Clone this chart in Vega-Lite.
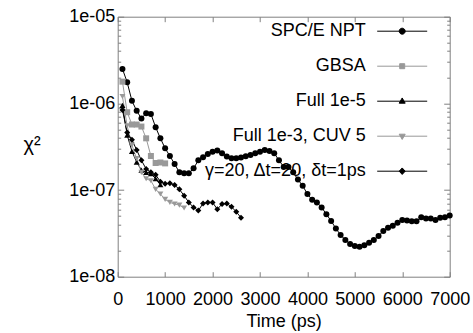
{
  "$schema": "https://vega.github.io/schema/vega-lite/v6.json",
  "width": 332,
  "height": 260,
  "autosize": "none",
  "padding": {"left": 117.7, "top": 16.7, "right": 23.3, "bottom": 56.3},
  "config": {
    "font": "Liberation Sans",
    "view": {"stroke": null},
    "axis": {"grid": false, "domainColor": "#808080", "tickColor": "#808080", "labelFont": "Liberation Sans", "titleFont": "Liberation Sans", "labelColor": "black", "titleColor": "black", "labelFontSize": 18, "titleFontSize": 18, "titleFontWeight": "normal", "labelFlush": false}
  },
  "data": {"values": [
    {"s":"SPC/E NPT","t":100,"v":2.5e-6},{"s":"SPC/E NPT","t":200,"v":1.75e-6},{"s":"SPC/E NPT","t":300,"v":1.07e-6},{"s":"SPC/E NPT","t":400,"v":8.2e-7},{"s":"SPC/E NPT","t":500,"v":6.7e-7},{"s":"SPC/E NPT","t":600,"v":7.7e-7},{"s":"SPC/E NPT","t":700,"v":7.55e-7},{"s":"SPC/E NPT","t":800,"v":5.3e-7},{"s":"SPC/E NPT","t":900,"v":3.95e-7},{"s":"SPC/E NPT","t":1000,"v":3.03e-7},
    {"s":"SPC/E NPT","t":1100,"v":2.47e-7},{"s":"SPC/E NPT","t":1200,"v":2.0e-7},{"s":"SPC/E NPT","t":1300,"v":1.6e-7},{"s":"SPC/E NPT","t":1400,"v":1.56e-7},{"s":"SPC/E NPT","t":1500,"v":1.56e-7},{"s":"SPC/E NPT","t":1600,"v":1.78e-7},{"s":"SPC/E NPT","t":1700,"v":2.2e-7},{"s":"SPC/E NPT","t":1800,"v":2.39e-7},{"s":"SPC/E NPT","t":1900,"v":2.6e-7},{"s":"SPC/E NPT","t":2000,"v":2.77e-7},
    {"s":"SPC/E NPT","t":2100,"v":2.85e-7},{"s":"SPC/E NPT","t":2200,"v":2.66e-7},{"s":"SPC/E NPT","t":2300,"v":2.43e-7},{"s":"SPC/E NPT","t":2400,"v":2.33e-7},{"s":"SPC/E NPT","t":2500,"v":2.33e-7},{"s":"SPC/E NPT","t":2600,"v":2.38e-7},{"s":"SPC/E NPT","t":2700,"v":2.45e-7},{"s":"SPC/E NPT","t":2800,"v":2.54e-7},{"s":"SPC/E NPT","t":2900,"v":2.66e-7},{"s":"SPC/E NPT","t":3000,"v":2.77e-7},
    {"s":"SPC/E NPT","t":3100,"v":2.9e-7},{"s":"SPC/E NPT","t":3200,"v":2.83e-7},{"s":"SPC/E NPT","t":3300,"v":2.66e-7},{"s":"SPC/E NPT","t":3400,"v":2.2e-7},{"s":"SPC/E NPT","t":3500,"v":1.85e-7},{"s":"SPC/E NPT","t":3600,"v":1.84e-7},{"s":"SPC/E NPT","t":3700,"v":1.6e-7},{"s":"SPC/E NPT","t":3800,"v":1.32e-7},{"s":"SPC/E NPT","t":3900,"v":1.12e-7},{"s":"SPC/E NPT","t":4000,"v":9.0e-8},
    {"s":"SPC/E NPT","t":4100,"v":7.7e-8},{"s":"SPC/E NPT","t":4200,"v":7.2e-8},{"s":"SPC/E NPT","t":4300,"v":6.3e-8},{"s":"SPC/E NPT","t":4400,"v":5.25e-8},{"s":"SPC/E NPT","t":4500,"v":4.4e-8},{"s":"SPC/E NPT","t":4600,"v":3.6e-8},{"s":"SPC/E NPT","t":4700,"v":3.03e-8},{"s":"SPC/E NPT","t":4800,"v":2.65e-8},{"s":"SPC/E NPT","t":4900,"v":2.39e-8},{"s":"SPC/E NPT","t":5000,"v":2.26e-8},
    {"s":"SPC/E NPT","t":5100,"v":2.22e-8},{"s":"SPC/E NPT","t":5200,"v":2.3e-8},{"s":"SPC/E NPT","t":5300,"v":2.47e-8},{"s":"SPC/E NPT","t":5400,"v":2.65e-8},{"s":"SPC/E NPT","t":5500,"v":2.95e-8},{"s":"SPC/E NPT","t":5600,"v":3.37e-8},{"s":"SPC/E NPT","t":5700,"v":3.68e-8},{"s":"SPC/E NPT","t":5800,"v":3.88e-8},{"s":"SPC/E NPT","t":5900,"v":4.2e-8},{"s":"SPC/E NPT","t":6000,"v":4.52e-8},
    {"s":"SPC/E NPT","t":6100,"v":4.45e-8},{"s":"SPC/E NPT","t":6200,"v":4.35e-8},{"s":"SPC/E NPT","t":6300,"v":4.35e-8},{"s":"SPC/E NPT","t":6400,"v":4.85e-8},{"s":"SPC/E NPT","t":6500,"v":4.7e-8},{"s":"SPC/E NPT","t":6600,"v":4.7e-8},{"s":"SPC/E NPT","t":6700,"v":4.5e-8},{"s":"SPC/E NPT","t":6800,"v":4.8e-8},{"s":"SPC/E NPT","t":6900,"v":4.85e-8},{"s":"SPC/E NPT","t":7000,"v":5.07e-8},
    {"s":"GBSA","t":100,"v":1.78e-6},{"s":"GBSA","t":200,"v":7.9e-7},{"s":"GBSA","t":300,"v":5.7e-7},{"s":"GBSA","t":400,"v":5.7e-7},{"s":"GBSA","t":500,"v":5.4e-7},{"s":"GBSA","t":600,"v":3.95e-7},{"s":"GBSA","t":700,"v":2.47e-7},{"s":"GBSA","t":800,"v":2.05e-7},{"s":"GBSA","t":900,"v":2.08e-7},{"s":"GBSA","t":1000,"v":2.03e-7},
    {"s":"Full 1e-5","t":100,"v":9.5e-7},{"s":"Full 1e-5","t":200,"v":4.3e-7},{"s":"Full 1e-5","t":300,"v":2.8e-7},{"s":"Full 1e-5","t":400,"v":2.1e-7},{"s":"Full 1e-5","t":500,"v":1.7e-7},{"s":"Full 1e-5","t":600,"v":1.6e-7},{"s":"Full 1e-5","t":700,"v":1.55e-7},{"s":"Full 1e-5","t":800,"v":1.35e-7},{"s":"Full 1e-5","t":900,"v":1.15e-7},
    {"s":"Full 1e-3, CUV 5","t":100,"v":1.2e-6},{"s":"Full 1e-3, CUV 5","t":200,"v":5.5e-7},{"s":"Full 1e-3, CUV 5","t":300,"v":3.3e-7},{"s":"Full 1e-3, CUV 5","t":400,"v":2.3e-7},{"s":"Full 1e-3, CUV 5","t":500,"v":1.6e-7},{"s":"Full 1e-3, CUV 5","t":600,"v":1.35e-7},{"s":"Full 1e-3, CUV 5","t":700,"v":1.28e-7},{"s":"Full 1e-3, CUV 5","t":800,"v":1.02e-7},{"s":"Full 1e-3, CUV 5","t":900,"v":9.0e-8},{"s":"Full 1e-3, CUV 5","t":1000,"v":7.8e-8},{"s":"Full 1e-3, CUV 5","t":1100,"v":7.2e-8},{"s":"Full 1e-3, CUV 5","t":1200,"v":6.9e-8},{"s":"Full 1e-3, CUV 5","t":1300,"v":6.7e-8},{"s":"Full 1e-3, CUV 5","t":1400,"v":6.2e-8},
    {"s":"γ=20, Δt=20, δt=1ps","t":100,"v":8.4e-7},{"s":"γ=20, Δt=20, δt=1ps","t":200,"v":4.6e-7},{"s":"γ=20, Δt=20, δt=1ps","t":300,"v":3.8e-7},{"s":"γ=20, Δt=20, δt=1ps","t":400,"v":2.9e-7},{"s":"γ=20, Δt=20, δt=1ps","t":500,"v":2.2e-7},{"s":"γ=20, Δt=20, δt=1ps","t":600,"v":1.75e-7},{"s":"γ=20, Δt=20, δt=1ps","t":700,"v":1.6e-7},{"s":"γ=20, Δt=20, δt=1ps","t":800,"v":1.5e-7},{"s":"γ=20, Δt=20, δt=1ps","t":900,"v":1.25e-7},{"s":"γ=20, Δt=20, δt=1ps","t":1000,"v":1.18e-7},
    {"s":"γ=20, Δt=20, δt=1ps","t":1100,"v":1.2e-7},{"s":"γ=20, Δt=20, δt=1ps","t":1200,"v":1.14e-7},{"s":"γ=20, Δt=20, δt=1ps","t":1300,"v":1.02e-7},{"s":"γ=20, Δt=20, δt=1ps","t":1400,"v":8.6e-8},{"s":"γ=20, Δt=20, δt=1ps","t":1500,"v":7.2e-8},{"s":"γ=20, Δt=20, δt=1ps","t":1600,"v":6.3e-8},{"s":"γ=20, Δt=20, δt=1ps","t":1700,"v":5.8e-8},{"s":"γ=20, Δt=20, δt=1ps","t":1800,"v":7.0e-8},{"s":"γ=20, Δt=20, δt=1ps","t":1900,"v":7.2e-8},{"s":"γ=20, Δt=20, δt=1ps","t":2000,"v":7.2e-8},
    {"s":"γ=20, Δt=20, δt=1ps","t":2100,"v":6.0e-8},{"s":"γ=20, Δt=20, δt=1ps","t":2200,"v":6.9e-8},{"s":"γ=20, Δt=20, δt=1ps","t":2300,"v":7.0e-8},{"s":"γ=20, Δt=20, δt=1ps","t":2400,"v":6.4e-8},{"s":"γ=20, Δt=20, δt=1ps","t":2500,"v":5.6e-8},{"s":"γ=20, Δt=20, δt=1ps","t":2600,"v":4.8e-8}
  ]},
  "resolve": {"axis": {"x": "independent", "y": "independent"}},
  "layer": [
    {
      "mark": {"type": "line", "strokeWidth": 1},
      "encoding": {
        "x": {"field": "t", "type": "quantitative", "scale": {"domain": [0, 7000], "nice": false, "zero": false},
              "axis": {"orient": "bottom", "values": [0,1000,2000,3000,4000,5000,6000,7000], "format": "d", "labelOverlap": false, "labelFlush": false, "tickSize": -5, "labelPadding": 19, "title": "Time (ps)", "titlePadding": 4}},
        "y": {"field": "v", "type": "quantitative", "scale": {"type": "log", "domain": [1e-8, 1e-5], "nice": false},
              "axis": {"orient": "left",
                "values": [1e-8,2e-8,3e-8,4e-8,5e-8,6e-8,7e-8,8e-8,9e-8,1e-7,2e-7,3e-7,4e-7,5e-7,6e-7,7e-7,8e-7,9e-7,1e-6,2e-6,3e-6,4e-6,5e-6,6e-6,7e-6,8e-6,9e-6,1e-5],
                "labelExpr": "abs(log(datum.value)/LN10 - round(log(datum.value)/LN10)) < 0.01 ? '1e-0' + (-round(log(datum.value)/LN10)) : ''",
                "tickSize": {"condition": {"test": "abs(log(datum.value)/LN10 - round(log(datum.value)/LN10)) < 0.01", "value": -6}, "value": -3},
                "labelPadding": 9,
                "title": "χ²", "titleAngle": 0, "titleFontSize": 20, "titleAlign": "center", "titleBaseline": "middle", "titleX": -86, "titleY": 128}},
        "color": {"field": "s", "type": "nominal",
                  "scale": {"domain": ["SPC/E NPT","GBSA","Full 1e-5","Full 1e-3, CUV 5","γ=20, Δt=20, δt=1ps"], "range": ["black","#999999","black","#999999","black"]}}
      }
    },
    {
      "mark": {"type": "point", "filled": true, "opacity": 1, "size": 36},
      "encoding": {
        "x": {"field": "t", "type": "quantitative", "axis": null},
        "y": {"field": "v", "type": "quantitative", "axis": null},
        "color": {"field": "s", "type": "nominal",
                  "legend": {"orient": "none", "legendX": 259, "legendY": -11, "title": null, "padding": 0,
                    "symbolSize": 2500, "symbolStrokeWidth": 1, "symbolOpacity": 1, "labelAlign": "right", "labelOffset": -62,
                    "labelFont": "Liberation Sans", "labelFontSize": 18, "labelColor": "black", "rowPadding": -16, "labelLimit": 300,
                    "symbolType": {"expr": "datum.value == 'SPC/E NPT' ? 'M-1,0H1M0.12,0A0.12,0.12,0,1,1,-0.12,0A0.12,0.12,0,1,1,0.12,0Z' : datum.value == 'GBSA' ? 'M-1,0H1M-0.1,-0.1H0.1V0.1H-0.1Z' : datum.value == 'Full 1e-5' ? 'M-1,0H1M0,-0.13L0.12,0.08L-0.12,0.08Z' : datum.value == 'Full 1e-3, CUV 5' ? 'M-1,0H1M0,0.13L0.12,-0.08L-0.12,-0.08Z' : 'M-1,0H1M0,-0.13L0.12,0L0,0.13L-0.12,0Z'"}}},
        "shape": {"field": "s", "type": "nominal", "legend": null,
                  "scale": {"domain": ["GBSA","SPC/E NPT","Full 1e-5","Full 1e-3, CUV 5","γ=20, Δt=20, δt=1ps"], "range": ["square","circle","triangle-up","triangle-down","diamond"]}}
      }
    },
    {
      "mark": {"type": "point", "opacity": 0},
      "encoding": {
        "x": {"field": "t", "type": "quantitative",
              "axis": {"orient": "top", "values": [0,1000,2000,3000,4000,5000,6000,7000], "tickSize": -5, "labels": false, "title": null}},
        "y": {"field": "v", "type": "quantitative",
              "axis": {"orient": "right", "labels": false, "title": null,
                "values": [1e-8,2e-8,3e-8,4e-8,5e-8,6e-8,7e-8,8e-8,9e-8,1e-7,2e-7,3e-7,4e-7,5e-7,6e-7,7e-7,8e-7,9e-7,1e-6,2e-6,3e-6,4e-6,5e-6,6e-6,7e-6,8e-6,9e-6,1e-5],
                "tickSize": {"condition": {"test": "abs(log(datum.value)/LN10 - round(log(datum.value)/LN10)) < 0.01", "value": -6}, "value": -3}}}
      }
    }
  ]
}
